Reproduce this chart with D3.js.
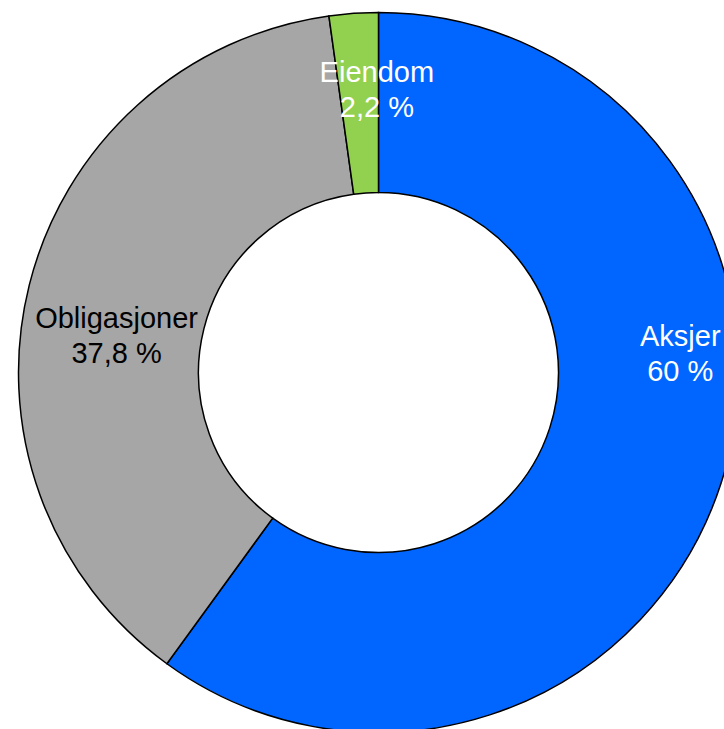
<!DOCTYPE html>
<html>
<head>
<meta charset="utf-8">
<script src="https://cdn.jsdelivr.net/npm/d3@7"></script>
<style>
  body { margin: 0; background: #fff; }
  svg { display: block; }
</style>
</head>
<body>
<svg width="724" height="729"></svg>
<script>
// chart values
var categories = ['Aksjer', 'Obligasjoner', 'Eiendom'];
var shares = [60, 37.8, 2.2];
var shareLabels = ['60 %', '37,8 %', '2,2 %'];
var sliceColors = ['#0066FF', '#A6A6A6', '#92D050'];
var labelColors = ['#ffffff', '#000000', '#ffffff'];

var svg = d3.select('svg');

var cx = 378.5, cy = 372.5;
var outerR = 360, innerR = 180;

var chartG = svg.append('g')
    .attr('transform', 'translate(' + [cx, cy] + ')');

var pie = d3.pie().sort(null).value(function(d) { return d; });
var arcs = pie(shares);

var arc = d3.arc().innerRadius(innerR).outerRadius(outerR);

chartG.selectAll('path.slice')
    .data(arcs)
    .enter()
    .append('path')
    .attr('class', 'slice')
    .attr('d', arc)
    .style('fill', function(d, i) { return sliceColors[i]; })
    .style('stroke', '#000')
    .style('stroke-width', 1.5);

// nudges from the arc centroid to where the labels sit
var labelNudge = [[45, -110], [0, 21], [17, -21]];

var labels = chartG.selectAll('text.label')
    .data(arcs)
    .enter()
    .append('text')
    .attr('class', 'label')
    .attr('text-anchor', 'middle')
    .style('font-family', '"Liberation Sans", Arial, sans-serif')
    .style('font-size', '29px')
    .style('fill', function(d, i) { return labelColors[i]; })
    .attr('transform', function(d, i) {
        var c = arc.centroid(d);
        return 'translate(' + [c[0] + labelNudge[i][0], c[1] + labelNudge[i][1]] + ')';
    });

labels.append('tspan')
    .attr('x', 0)
    .attr('y', 0)
    .text(function(d, i) { return categories[i]; });

labels.append('tspan')
    .attr('x', 0)
    .attr('dy', 35)
    .text(function(d, i) { return shareLabels[i]; });
</script>
</body>
</html>
